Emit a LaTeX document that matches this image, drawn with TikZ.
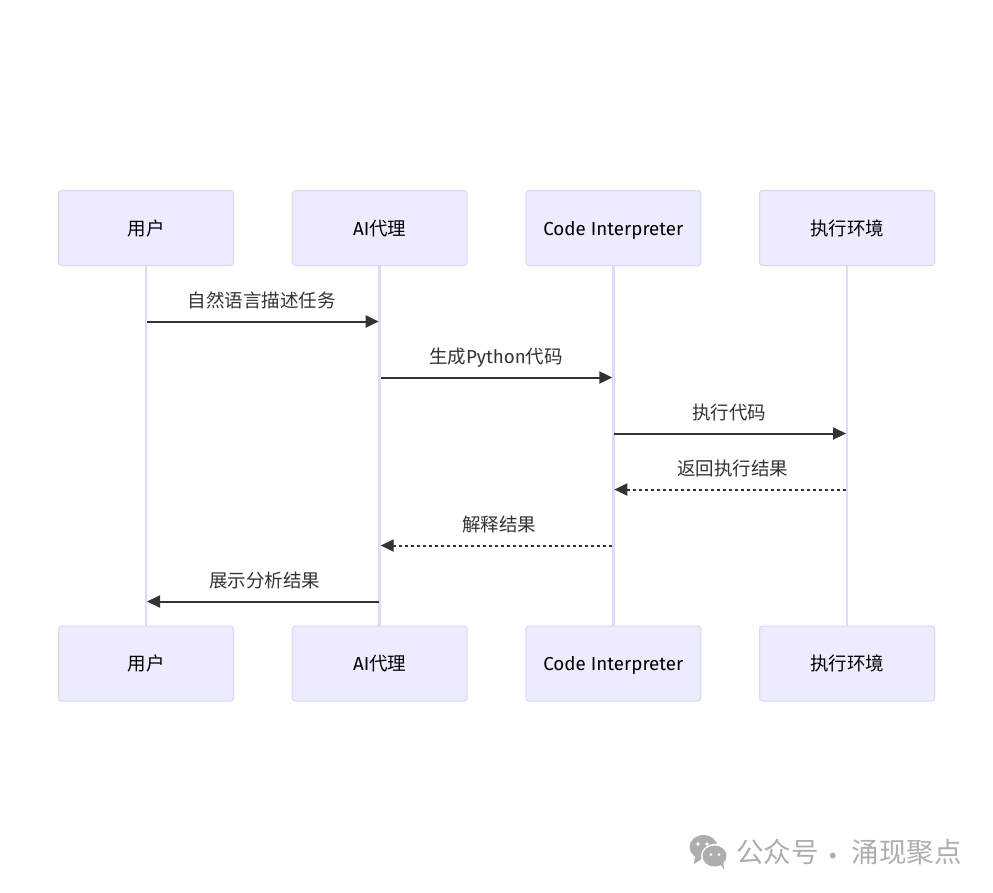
\documentclass[tikz,border=0pt]{standalone}
\usepackage{fontspec}
\setmainfont{Noto Sans CJK SC}
\newfontfamily\latinfont[Scale=1.015]{Fira Sans}
\usetikzlibrary{arrows.meta, positioning}

\definecolor{boxfill}{HTML}{ECECFF}
\definecolor{boxline}{HTML}{DCD6F5}
\definecolor{lifeline}{HTML}{E0D9F8}
\definecolor{msgline}{HTML}{333333}
\definecolor{markgray}{HTML}{AEAEAE}

\tikzset{
   actor/.style = {draw=boxline, fill=boxfill, line width=1pt, rounded corners=3pt,
      minimum width=175pt, minimum height=75pt, inner sep=0pt,
      text height=16pt, text depth=2pt, font=\fontsize{18.5}{20}\selectfont},
   life/.style = {draw=lifeline, line width=2.4pt},
   msg/.style = {draw=msgline, line width=2pt, shorten <=1pt, shorten >=1pt,
      -{Triangle[length=13pt,width=12pt]}},
   reply/.style = {msg, dash pattern=on 3.5pt off 2.5pt},
   msglabel/.style = {above=9pt, inner sep=0pt, text=msgline,
      text height=14pt, text depth=4pt, font=\fontsize{18.5}{20}\selectfont},
   marktext/.style = {text=markgray, inner sep=0pt, font=\fontsize{27.5}{30}\selectfont}
}

\begin{document}
\begin{tikzpicture} [x=1pt, y=-1pt, node distance = 233.67pt, on grid]
   \useasboundingbox (0,0) rectangle (993,892);
   \fill[white] (0,0) rectangle (993,892);

   \node (usertop)[actor] at (146,228) {用户};
   \node (agenttop)[actor, right = of usertop] {{\latinfont AI}代理};
   \node (codetop)[actor, right = of agenttop] {\latinfont Code Interpreter};
   \node (envtop)[actor, right = of codetop] {执行环境};

   \node (userbot)[actor] at (146,663.5) {用户};
   \node (agentbot)[actor, right = of userbot] {{\latinfont AI}代理};
   \node (codebot)[actor, right = of agentbot] {\latinfont Code Interpreter};
   \node (envbot)[actor, right = of codebot] {执行环境};

   \draw[life] (usertop) -- (userbot);
   \draw[life] (agenttop) -- (agentbot);
   \draw[life] (codetop) -- (codebot);
   \draw[life] (envtop) -- (envbot);

   \foreach \i/\y in {1/321.5, 2/377.5, 3/433.5, 4/489.5, 5/545.5, 6/601.5}
      \coordinate (row\i) at (0,\y);

   \draw[msg] (usertop |- row1) -- node[msglabel, xshift=-1pt] {自然语言描述任务} (agenttop |- row1);
   \draw[msg] (agenttop |- row2) -- node[msglabel, xshift=-0.5pt] {生成{\latinfont Python}代码} (codetop |- row2);
   \draw[msg] (codetop |- row3) -- node[msglabel, xshift=-1pt] {执行代码} (envtop |- row3);
   \draw[reply] (envtop |- row4) -- node[msglabel, xshift=2.5pt] {返回执行结果} (codetop |- row4);
   \draw[reply] (codetop |- row5) -- node[msglabel, xshift=2.5pt] {解释结果} (agenttop |- row5);
   \draw[msg] (agenttop |- row6) -- node[msglabel, xshift=2pt] {展示分析结果} (usertop |- row6);

   % watermark
   \fill[markgray] (703.5,847) ellipse (14pt and 12pt);
   \fill[markgray] (695,856) -- (694,864) -- (703,858) -- cycle;
   \fill[white] (714.5,856) ellipse (13.5pt and 12pt);
   \fill[markgray] (714.5,856) ellipse (12pt and 10.5pt);
   \fill[markgray] (720,864) -- (724,869) -- (723,860) -- cycle;
   \fill[white] (698,844) circle (1.8pt) (707,844) circle (1.8pt);
   \fill[white] (711,854.5) circle (1.5pt) (719,854.5) circle (1.5pt);
   \node (markhead)[marktext, anchor=west] at (736,852) {公众号};
   \node (markdot)[marktext] at (833,860) {·};
   \node (markname)[marktext, anchor=west] at (851.5,852) {涌现聚点};
\end{tikzpicture}
\end{document}
